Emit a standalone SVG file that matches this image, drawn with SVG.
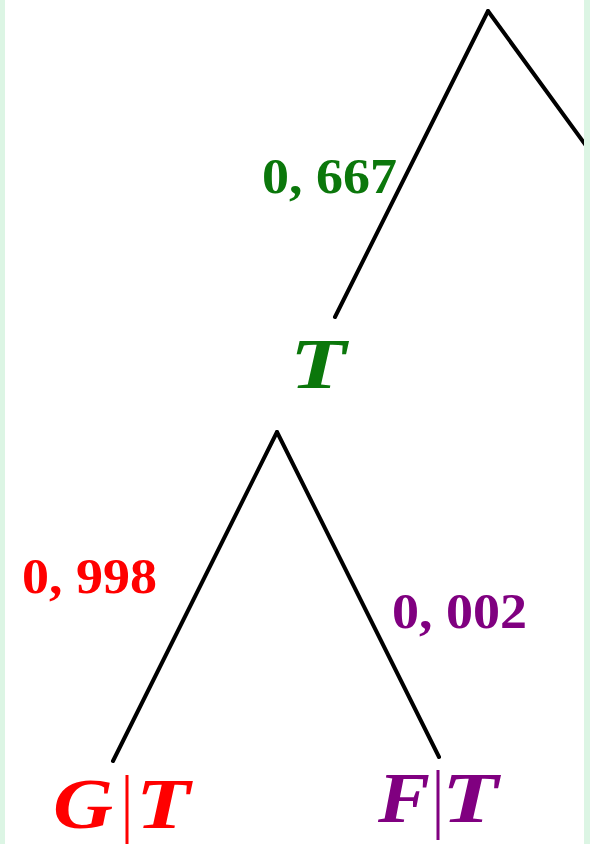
<svg xmlns="http://www.w3.org/2000/svg" width="590" height="844" viewBox="0 0 590 844">
<style>
.edge{stroke:#000;stroke-width:4;fill:none;stroke-linecap:round}
.num{font-family:"Liberation Serif",serif;font-weight:bold;font-size:50px}
.var{font-family:"Liberation Serif",serif;font-weight:bold;font-style:italic;font-size:72px}
.g{fill:#0b770b}.r{fill:#ff0000}.p{fill:#800080}
</style>
<rect x="0" y="0" width="590" height="844" fill="#ffffff"/>
<g id="connectors">
<line class="edge" x1="488" y1="11" x2="335" y2="317"/>
<line class="edge" x1="488" y1="11" x2="595" y2="158"/>
<line class="edge" x1="277" y1="432" x2="113" y2="761"/>
<line class="edge" x1="277" y1="432" x2="439" y2="757"/>
</g>
<g id="label-0667"><text class="num g" x="262" y="193" textLength="135" lengthAdjust="spacingAndGlyphs">0, 667</text></g>
<g id="node-T"><text class="var g" x="290" y="388" textLength="56" lengthAdjust="spacingAndGlyphs">T</text></g>
<g id="label-0998"><text class="num r" x="22" y="593" textLength="135" lengthAdjust="spacingAndGlyphs">0, 998</text></g>
<g id="label-0002"><text class="num p" x="392" y="628" textLength="135" lengthAdjust="spacingAndGlyphs">0, 002</text></g>
<g id="node-GT">
<text class="var r" x="53" y="828" textLength="60" lengthAdjust="spacingAndGlyphs">G</text>
<rect x="125.5" y="775" width="3" height="69" fill="#ff0000"/>
<text class="var r" x="136" y="828" textLength="54" lengthAdjust="spacingAndGlyphs">T</text>
</g>
<g id="node-FT">
<text class="var p" x="378" y="822" textLength="52" lengthAdjust="spacingAndGlyphs">F</text>
<rect x="436.5" y="770" width="3" height="70" fill="#800080"/>
<text class="var p" x="442" y="822" textLength="56" lengthAdjust="spacingAndGlyphs">T</text>
</g>
<rect x="0" y="0" width="5" height="844" fill="#dcf5e4"/>
<rect x="584" y="0" width="6" height="844" fill="#dcf5e4"/>
</svg>
